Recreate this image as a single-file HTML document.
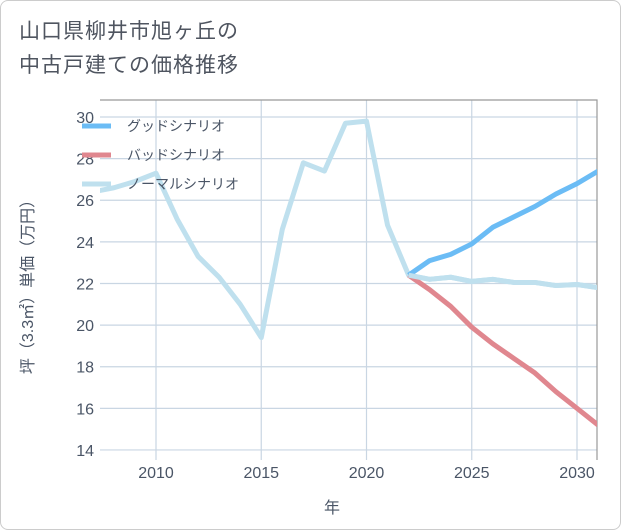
<!DOCTYPE html>
<html><head><meta charset="utf-8"><style>
body{margin:0;background:#fff;font-family:"Liberation Sans","Noto Sans CJK JP",sans-serif}
#wrap{position:relative;width:619px;height:528px;border:1px solid #ccc;border-radius:8px;overflow:hidden}
.title{position:absolute;left:18px;top:14px;font-size:21px;line-height:34px;color:#4f5560;letter-spacing:1px}
</style></head><body>
<div id="wrap">
<div class="title">山口県柳井市旭ヶ丘の<br>中古戸建ての価格推移</div>
<svg id="c" width="621" height="530" style="position:absolute;left:-1px;top:-1px"></svg>
</div>
<script>
const normalYears=[2007,2008,2009,2010,2011,2012,2013,2014,2015,2016,2017,2018,2019,2020,2021,2022,2023,2024,2025,2026,2027,2028,2029,2030,2031];
const normalVals=[26.4,26.6,26.9,27.3,25.1,23.3,22.3,21.0,19.4,24.6,27.8,27.4,29.7,29.8,24.8,22.4,22.2,22.3,22.1,22.2,22.05,22.05,21.9,21.95,21.8];
const goodYears=[2022,2023,2024,2025,2026,2027,2028,2029,2030,2031];
const goodVals=[22.4,23.1,23.4,23.9,24.7,25.2,25.7,26.3,26.8,27.4];
const badYears=[2022,2023,2024,2025,2026,2027,2028,2029,2030,2031];
const badVals=[22.4,21.7,20.9,19.9,19.1,18.4,17.7,16.8,16.0,15.2];
const yTicks=[14,16,18,20,22,24,26,28,30];
const xTicks=[2010,2015,2020,2025,2030];
const L=100,R=597,T=100,B=460;
const TC='#4a5566';
const x=yr=>156+(yr-2010)*21.05;
const y=v=>117+(30-v)*20.81;
const s=document.getElementById('c'),NS='http://www.w3.org/2000/svg';
function mk(t,a,p){const e=document.createElementNS(NS,t);for(const k in a)e.setAttribute(k,a[k]);(p||s).appendChild(e);return e;}
const defs=mk('defs',{});const cp=mk('clipPath',{id:'pc'},defs);mk('rect',{x:L,y:T,width:R-L,height:B-T},cp);
for(const v of yTicks){
const g=mk('line',{x1:L,x2:R,y1:y(v),y2:y(v),stroke:'#c9d6e3','stroke-width':1.2});


const t=mk('text',{x:L-6,y:y(v)+6,'text-anchor':'end','font-size':16,fill:TC});t.textContent=v;


}
for(const yr of xTicks){
const g=mk('line',{x1:x(yr),x2:x(yr),y1:T,y2:B,stroke:'#c9d6e3','stroke-width':1.2});


const t=mk('text',{x:x(yr),y:478,'text-anchor':'middle','font-size':16,fill:TC});t.textContent=yr;


}
const ax=mk('path',{d:`M${L} ${T}H${R}V${B}`,fill:'none',stroke:'#999','stroke-width':1.2});


function line(xs,vs,c,n){const p=mk('polyline',{points:xs.map((a,i)=>x(a)+','+y(vs[i])).join(' '),fill:'none',stroke:c,'stroke-width':5,'stroke-linejoin':'round','clip-path':'url(#pc)'});

}
line(normalYears,normalVals,'#bfe0ee','normal-line');
line(goodYears,goodVals,'#6bbcf5','good-line');
line(badYears,badVals,'#e0878f','bad-line');
line(normalYears.slice(15),normalVals.slice(15),'#bfe0ee','normal-line-future');
const leg=[['グッドシナリオ','#6bbcf5'],['バッドシナリオ','#e0878f'],['ノーマルシナリオ','#bfe0ee']];
leg.forEach((l,i)=>{const yy=126+i*29;
const r=mk('line',{x1:82,x2:111,y1:yy,y2:yy,stroke:l[1],'stroke-width':5});


const t=mk('text',{x:127,y:yy+5,'font-size':14,fill:TC});t.textContent=l[0];

});
const xt=mk('text',{x:332,y:513,'text-anchor':'middle','font-size':16,fill:TC});xt.textContent='年';


const yt=mk('text',{x:0,y:0,'text-anchor':'middle','font-size':16,fill:TC,transform:'translate(33,283) rotate(-90)'});yt.textContent='坪（3.3㎡）単価（万円）';


</script>
</body></html>
